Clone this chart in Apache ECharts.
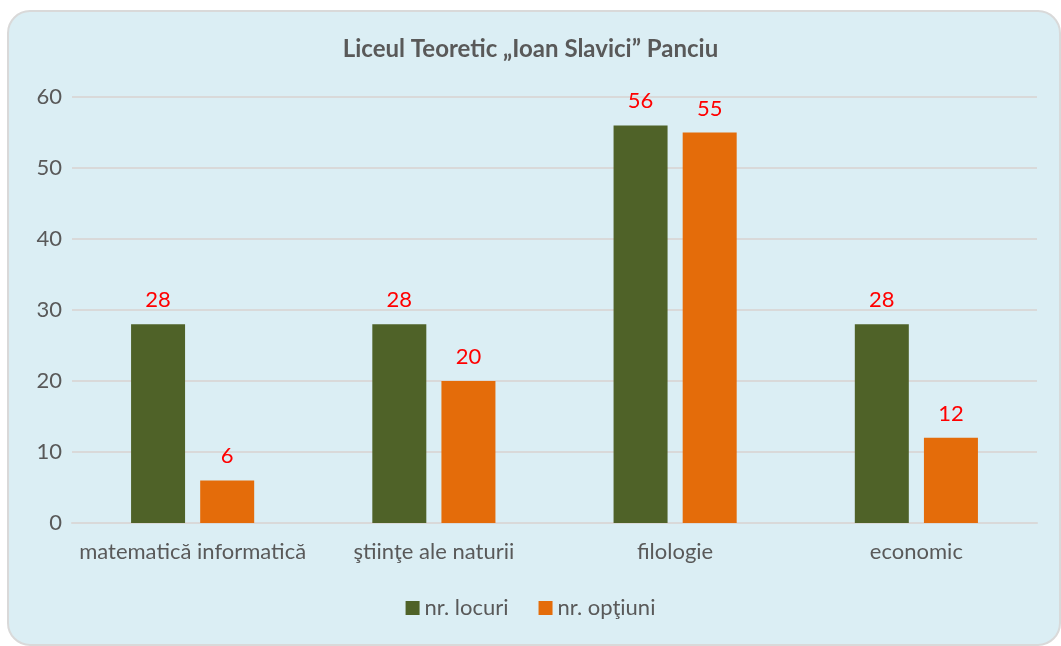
<!DOCTYPE html>
<html>
<head>
    <meta charset="UTF-8">
    <title>Liceul Teoretic Ioan Slavici Panciu</title>
    <script src="https://cdn.jsdelivr.net/npm/echarts@6/dist/echarts.min.js"></script>
    <style>
        html, body { margin: 0; padding: 0; background: #ffffff; }
        #chart { width: 1061px; height: 646px; }
    </style>
</head>
<body>
<div id="chart"></div>
<script>
    const categories = ['matematică informatică', 'ştiinţe ale naturii', 'filologie', 'economic']
    const locuri = [28, 28, 56, 28]
    const optiuni = [6, 20, 55, 12]
    const yTicks = [0, 10, 20, 30, 40, 50, 60]

    const FONT = 'Lato, "Open Sans", sans-serif'
    const TEXT = '#595959'

    let chart = echarts.init(document.getElementById('chart'), null, {renderer: 'canvas'})
    chart.setOption({
        animation: false,
        graphic: [{
            type: 'rect',
            z: -10,
            shape: {x: 8, y: 11, width: 1052, height: 634, r: 22},
            style: {fill: '#DBEEF4', stroke: '#D9D9D9', lineWidth: 2}
        }],
        title: {
            text: 'Liceul Teoretic „Ioan Slavici” Panciu',
            left: 'center',
            top: 32,
            textStyle: {fontFamily: FONT, fontSize: 24, fontWeight: 'bold', color: TEXT}
        },
        legend: {
            bottom: 22,
            left: 'center',
            itemWidth: 14,
            itemHeight: 14,
            itemGap: 30,
            icon: 'rect',
            textStyle: {fontFamily: FONT, fontSize: 22, color: TEXT}
        },
        grid: {left: 72, right: 24, top: 97, bottom: 123},
        xAxis: {
            type: 'category',
            data: categories,
            axisLine: {lineStyle: {color: '#D9D9D9', width: 2}},
            axisTick: {show: false},
            axisLabel: {interval: 0, fontFamily: FONT, fontSize: 22, color: TEXT, margin: 18}
        },
        yAxis: {
            type: 'value',
            min: yTicks[0],
            max: yTicks[yTicks.length - 1],
            interval: 10,
            axisLine: {show: false},
            axisTick: {show: false},
            axisLabel: {fontFamily: FONT, fontSize: 22, color: TEXT, margin: 10},
            splitLine: {lineStyle: {color: '#D9D9D9', width: 2}}
        },
        series: [{
            name: 'nr. locuri',
            type: 'bar',
            data: locuri,
            barWidth: 54,
            barGap: '28%',
            itemStyle: {color: '#4F6228'},
            label: {show: true, position: 'top', distance: 13, color: '#FF0000', fontFamily: FONT, fontSize: 22}
        }, {
            name: 'nr. opţiuni',
            type: 'bar',
            data: optiuni,
            barWidth: 54,
            itemStyle: {color: '#E46C0A'},
            label: {show: true, position: 'top', distance: 13, color: '#FF0000', fontFamily: FONT, fontSize: 22}
        }]
    })
</script>
</body>
</html>
